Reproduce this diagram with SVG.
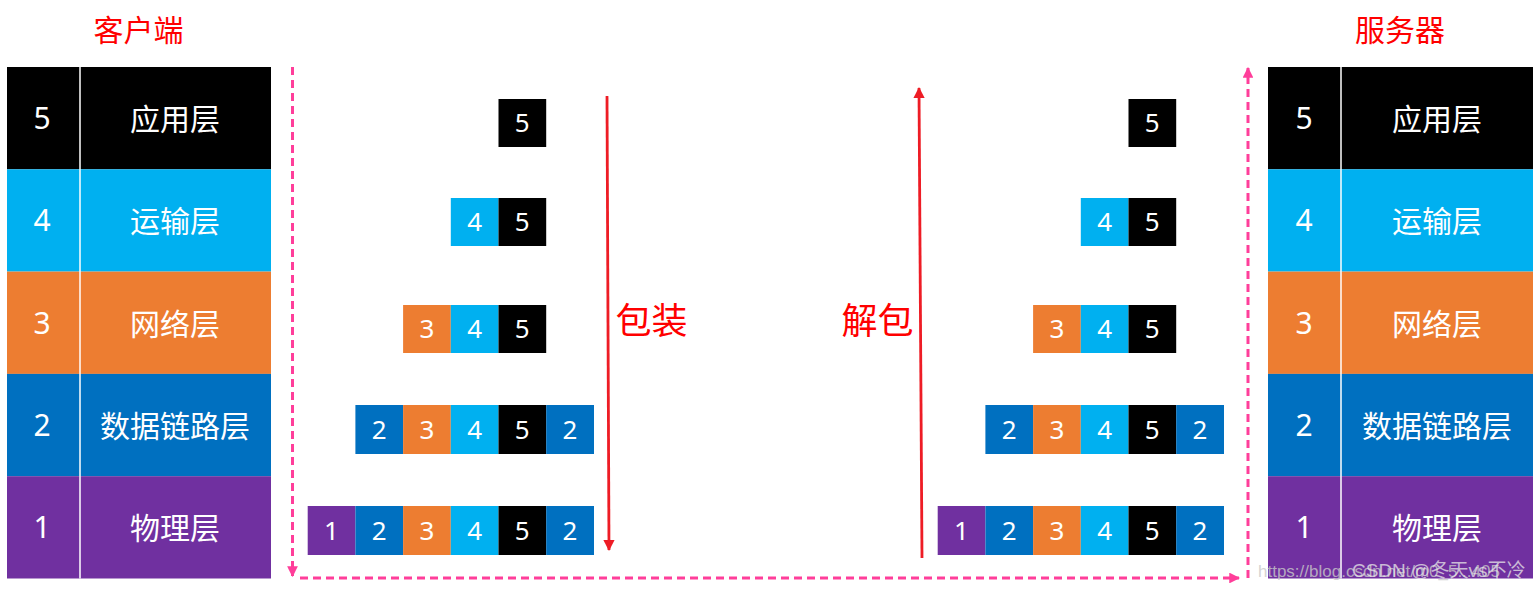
<svg xmlns="http://www.w3.org/2000/svg" width="1540" height="590" viewBox="0 0 1540 590">
<defs>
<style>
.t{font-family:"Noto Sans","Noto Sans CJK SC",sans-serif;fill:#fff;text-anchor:middle}
.tl{font-size:30px}
.pk{font-size:26px}
.red{font-family:"Noto Sans CJK SC",sans-serif;fill:#ff0000}
.k{fill:#000}.lb{fill:#00b0f0}.or{fill:#ed7d31}.bl{fill:#0070c0}.pu{fill:#7030a0}
.div{stroke:#fff;stroke-width:1.5}
.dash{stroke:#ff3e9a;stroke-width:3;stroke-dasharray:8 5;fill:none}
.ra{stroke:#ee1c25;stroke-width:2.8;fill:none}
</style>
<marker id="pinkArrow" viewBox="0 0 10 10" refX="9" refY="5" markerWidth="3.6" markerHeight="3.6" orient="auto" markerUnits="strokeWidth">
<path d="M0,0 L10,5 L0,10 z" fill="#ff3e9a"/>
</marker>
<marker id="redArrow" viewBox="0 0 10 10" refX="9" refY="5" markerWidth="4.6" markerHeight="4" orient="auto" markerUnits="strokeWidth">
<path d="M0,0 L10,5 L0,10 z" fill="#ee1c25"/>
</marker>
</defs>
<rect width="1540" height="590" fill="#fff"/>

<text class="red" x="138.5" y="41" font-size="30" text-anchor="middle">客户端</text>
<text class="red" x="1400" y="41" font-size="30" text-anchor="middle">服务器</text>

<g id="client-table">
<rect class="k" x="7" y="67" width="264" height="102.3"/>
<rect class="lb" x="7" y="169.3" width="264" height="102.3"/>
<rect class="or" x="7" y="271.6" width="264" height="102.3"/>
<rect class="bl" x="7" y="373.9" width="264" height="102.3"/>
<rect class="pu" x="7" y="476.2" width="264" height="102.3"/>
<line class="div" x1="80" y1="67" x2="80" y2="578.5"/>
<text class="t tl" x="42" y="129">5</text><text class="t tl" x="175" y="130">应用层</text>
<text class="t tl" x="42" y="231">4</text><text class="t tl" x="175" y="232">运输层</text>
<text class="t tl" x="42" y="334">3</text><text class="t tl" x="175" y="335">网络层</text>
<text class="t tl" x="42" y="436">2</text><text class="t tl" x="175" y="437">数据链路层</text>
<text class="t tl" x="42" y="538">1</text><text class="t tl" x="175" y="539">物理层</text>
</g>

<g id="server-table">
<rect class="k" x="1268" y="67" width="265" height="102.3"/>
<rect class="lb" x="1268" y="169.3" width="265" height="102.3"/>
<rect class="or" x="1268" y="271.6" width="265" height="102.3"/>
<rect class="bl" x="1268" y="373.9" width="265" height="102.3"/>
<rect class="pu" x="1268" y="476.2" width="265" height="102.3"/>
<line class="div" x1="1341" y1="67" x2="1341" y2="578.5"/>
<text class="t tl" x="1304" y="129">5</text><text class="t tl" x="1437" y="130">应用层</text>
<text class="t tl" x="1304" y="231">4</text><text class="t tl" x="1437" y="232">运输层</text>
<text class="t tl" x="1304" y="334">3</text><text class="t tl" x="1437" y="335">网络层</text>
<text class="t tl" x="1304" y="436">2</text><text class="t tl" x="1437" y="437">数据链路层</text>
<text class="t tl" x="1304" y="538">1</text><text class="t tl" x="1437" y="539">物理层</text>
</g>

<g id="client-packets">
<rect class="k" x="498.5" y="99" width="47.7" height="48"/><text class="t pk" x="522.3" y="132">5</text>

<rect class="lb" x="450.8" y="198" width="47.7" height="48"/><text class="t pk" x="474.6" y="231">4</text>
<rect class="k" x="498.5" y="198" width="47.7" height="48"/><text class="t pk" x="522.3" y="231">5</text>

<rect class="or" x="403.1" y="305" width="47.7" height="48"/><text class="t pk" x="426.9" y="338">3</text>
<rect class="lb" x="450.8" y="305" width="47.7" height="48"/><text class="t pk" x="474.6" y="338">4</text>
<rect class="k" x="498.5" y="305" width="47.7" height="48"/><text class="t pk" x="522.3" y="338">5</text>

<rect class="bl" x="355.4" y="405" width="47.7" height="49"/><text class="t pk" x="379.2" y="438.5">2</text>
<rect class="or" x="403.1" y="405" width="47.7" height="49"/><text class="t pk" x="426.9" y="438.5">3</text>
<rect class="lb" x="450.8" y="405" width="47.7" height="49"/><text class="t pk" x="474.6" y="438.5">4</text>
<rect class="k" x="498.5" y="405" width="47.7" height="49"/><text class="t pk" x="522.3" y="438.5">5</text>
<rect class="bl" x="546.2" y="405" width="47.8" height="49"/><text class="t pk" x="570" y="438.5">2</text>

<rect class="pu" x="307.7" y="506" width="47.7" height="49"/><text class="t pk" x="331.5" y="539.5">1</text>
<rect class="bl" x="355.4" y="506" width="47.7" height="49"/><text class="t pk" x="379.2" y="539.5">2</text>
<rect class="or" x="403.1" y="506" width="47.7" height="49"/><text class="t pk" x="426.9" y="539.5">3</text>
<rect class="lb" x="450.8" y="506" width="47.7" height="49"/><text class="t pk" x="474.6" y="539.5">4</text>
<rect class="k" x="498.5" y="506" width="47.7" height="49"/><text class="t pk" x="522.3" y="539.5">5</text>
<rect class="bl" x="546.2" y="506" width="47.8" height="49"/><text class="t pk" x="570" y="539.5">2</text>
</g>

<g id="server-packets">
<rect class="k" x="1128.5" y="99" width="47.7" height="48"/><text class="t pk" x="1152.3" y="132">5</text>

<rect class="lb" x="1080.8" y="198" width="47.7" height="48"/><text class="t pk" x="1104.6" y="231">4</text>
<rect class="k" x="1128.5" y="198" width="47.7" height="48"/><text class="t pk" x="1152.3" y="231">5</text>

<rect class="or" x="1033.1" y="305" width="47.7" height="48"/><text class="t pk" x="1056.9" y="338">3</text>
<rect class="lb" x="1080.8" y="305" width="47.7" height="48"/><text class="t pk" x="1104.6" y="338">4</text>
<rect class="k" x="1128.5" y="305" width="47.7" height="48"/><text class="t pk" x="1152.3" y="338">5</text>

<rect class="bl" x="985.4" y="405" width="47.7" height="49"/><text class="t pk" x="1009.2" y="438.5">2</text>
<rect class="or" x="1033.1" y="405" width="47.7" height="49"/><text class="t pk" x="1056.9" y="438.5">3</text>
<rect class="lb" x="1080.8" y="405" width="47.7" height="49"/><text class="t pk" x="1104.6" y="438.5">4</text>
<rect class="k" x="1128.5" y="405" width="47.7" height="49"/><text class="t pk" x="1152.3" y="438.5">5</text>
<rect class="bl" x="1176.2" y="405" width="47.8" height="49"/><text class="t pk" x="1200" y="438.5">2</text>

<rect class="pu" x="937.7" y="506" width="47.7" height="49"/><text class="t pk" x="961.5" y="539.5">1</text>
<rect class="bl" x="985.4" y="506" width="47.7" height="49"/><text class="t pk" x="1009.2" y="539.5">2</text>
<rect class="or" x="1033.1" y="506" width="47.7" height="49"/><text class="t pk" x="1056.9" y="539.5">3</text>
<rect class="lb" x="1080.8" y="506" width="47.7" height="49"/><text class="t pk" x="1104.6" y="539.5">4</text>
<rect class="k" x="1128.5" y="506" width="47.7" height="49"/><text class="t pk" x="1152.3" y="539.5">5</text>
<rect class="bl" x="1176.2" y="506" width="47.8" height="49"/><text class="t pk" x="1200" y="539.5">2</text>
</g>

<g id="connectors">
<line class="dash" x1="292.5" y1="67" x2="292.5" y2="576" marker-end="url(#pinkArrow)"/>
<line class="dash" x1="300" y1="578" x2="1239" y2="578" marker-end="url(#pinkArrow)"/>
<line class="dash" x1="1248" y1="578" x2="1248" y2="68" marker-end="url(#pinkArrow)"/>
<line class="ra" x1="607" y1="96" x2="609" y2="550" marker-end="url(#redArrow)"/>
<line class="ra" x1="922" y1="558" x2="919" y2="88" marker-end="url(#redArrow)"/>
</g>

<text class="red" x="651.5" y="334" font-size="36" text-anchor="middle">包装</text>
<text class="red" x="877.5" y="334" font-size="36" text-anchor="middle">解包</text>

<g id="watermark" font-family="Liberation Sans, sans-serif">
<text x="1258" y="577" fill="#c8c8c8" fill-opacity="0.8" font-size="17">https://blog.csdn.net/m0_5...405</text>
<text x="1352" y="577" fill="#e8e8e8" fill-opacity="0.75" font-family="Liberation Sans, Noto Sans CJK SC, sans-serif" font-size="19">CSDN @冬天vs不冷</text>
</g>
</svg>
